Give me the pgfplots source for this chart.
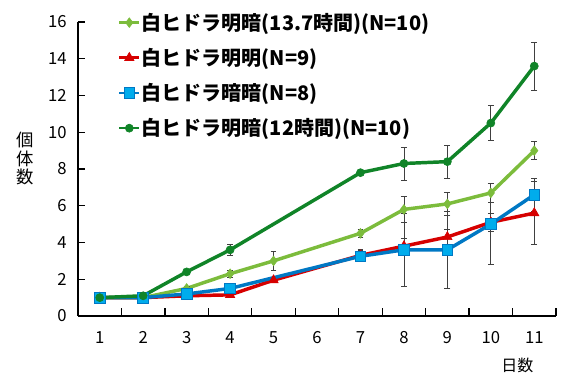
\documentclass[border=0pt]{standalone}
\usepackage{fontspec}
\setmainfont{Noto Sans CJK JP}
\usepackage{pgfplots}
\pgfplotsset{compat=1.18}
\definecolor{dgreen}{RGB}{16,132,40}
\definecolor{lgreen}{RGB}{124,188,60}
\definecolor{dred}{RGB}{214,0,0}
\definecolor{lblue}{RGB}{0,172,236}
\definecolor{dblue}{RGB}{0,120,196}
\begin{document}
\begin{tikzpicture}
\useasboundingbox (-58.5pt,-43.5pt) rectangle (363.75pt,237pt);
\begin{axis}[
  at={(0,0)}, anchor=south west,
  scale only axis, width=358.5pt, height=220.5pt,
  xmin=0.5, xmax=11.5, ymin=0, ymax=16,
  axis x line*=bottom, axis y line*=left,
  axis line style={line width=1.1pt},
  xtick={1,...,11}, major x tick style={draw=none},
  minor xtick={1.5,2.5,...,11.5},
  minor tick length=6pt,
  ytick={0,2,...,16}, major tick length=5pt,
  tick align=inside,
  tick style={line width=1pt, black},
  /pgf/number format/assume math mode=true,
  ticklabel style={font=\fontsize{12.5pt}{14pt}\selectfont},
  xticklabel style={yshift=-8pt},
  yticklabel style={xshift=-5pt},
  legend style={at={(0.075,1.045)}, anchor=north west, draw=none, fill=none,
    font=\fontsize{15pt}{17pt}\selectfont\bfseries, row sep=10pt,
    nodes={inner sep=1pt}},
  legend cell align=left,
  legend image code/.code={\draw[mark repeat=2,mark phase=2,line width=2pt] plot coordinates {(0cm,0cm)(0.26cm,0cm)(0.52cm,0cm)};},
  error bars/error bar style={line width=0.6pt, black!75},
  error bars/error mark options={rotate=90, mark size=2.2pt, line width=0.6pt, black!75},
]
% 13.7h light green
\addplot[lgreen, line width=2.6pt, mark=diamond*, mark size=3.6pt, mark options={line width=0.5pt},
  error bars/.cd, y dir=both, y explicit] coordinates {
 (1,1.0) +- (0,0) (2,1.0) +- (0,0) (3,1.5) +- (0,0.1) (4,2.3) +- (0,0.2) (5,3.0) +- (0,0.5)
 (7,4.5) +- (0,0.2) (8,5.8) +- (0,0.7) (9,6.1) +- (0,0.6) (10,6.7) +- (0,0.5) (11,9.0) +- (0,0.5)};
\addlegendentry{白ヒドラ明暗(13.7時間)(N=10)}
% red
\addplot[dred, line width=2.6pt, mark=triangle*, mark size=4pt, mark options={line width=0.5pt},
  error bars/.cd, y dir=both, y explicit] coordinates {
 (1,1.0) +- (0,0) (2,1.0) +- (0,0) (3,1.1) +- (0,0.1) (4,1.15) +- (0,0.1) (5,1.95) +- (0,0.1)
 (7,3.3) +- (0,0.3) (8,3.8) +- (0,0.4) (9,4.3) +- (0,0.4) (10,5.1) +- (0,0.5) (11,5.6) +- (0,1.7)};
\addlegendentry{白ヒドラ明明(N=9)}
% blue
\addplot[dblue, line width=2.6pt, mark=square*, mark size=4pt, mark options={fill=lblue, draw=dblue, line width=0.6pt},
  error bars/.cd, y dir=both, y explicit] coordinates {
 (1,1.0) +- (0,0) (2,1.0) +- (0,0) (3,1.2) +- (0,0.1) (4,1.5) +- (0,0.2)
 (7,3.25) +- (0,0.3) (8,3.6) +- (0,2.0) (9,3.6) +- (0,2.1) (10,5.0) +- (0,2.2) (11,6.6) +- (0,0.9)};
\addlegendentry{白ヒドラ暗暗(N=8)}
% 12h dark green
\addplot[dgreen, line width=2.6pt, mark=*, mark size=3pt, mark options={line width=0.5pt},
  error bars/.cd, y dir=both, y explicit] coordinates {
 (1,1.0) +- (0,0) (2,1.1) +- (0,0) (3,2.4) +- (0,0.1) (4,3.6) +- (0,0.3)
 (7,7.8) +- (0,0) (8,8.3) +- (0,0.9) (9,8.4) +- (0,0.9) (10,10.5) +- (0,0.95) (11,13.6) +- (0,1.3)};
\addlegendentry{白ヒドラ明暗(12時間)(N=10)}
\end{axis}
\node[font=\fontsize{13pt}{14pt}\selectfont, align=center, inner sep=0pt] at (-39.75pt,118pt) {個\\体\\数};
\node[font=\fontsize{12pt}{14pt}\selectfont, inner sep=0pt] at (329.5pt,-36.75pt) {日数};
\end{tikzpicture}
\end{document}
